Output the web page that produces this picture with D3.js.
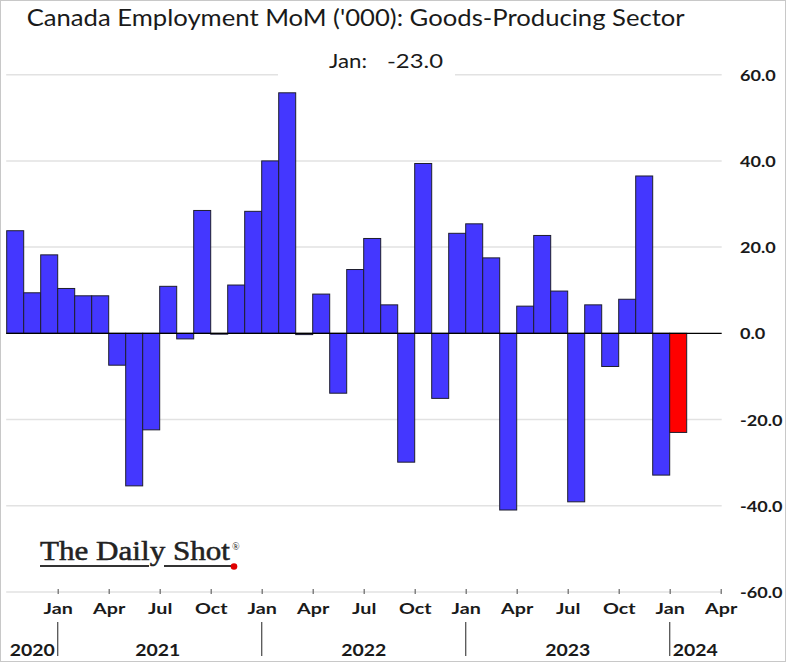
<!DOCTYPE html>
<html>
<head>
<meta charset="utf-8">
<script src="https://cdn.jsdelivr.net/npm/d3@7"></script>
<style>
  html, body { margin: 0; padding: 0; background: #fff; }
  svg { display: block; }
</style>
</head>
<body>
<svg id="chart" width="786" height="662"></svg>
<script>
// ---------------- DATA ----------------
const months = [
  "Oct 2020","Nov 2020","Dec 2020",
  "Jan 2021","Feb 2021","Mar 2021","Apr 2021","May 2021","Jun 2021","Jul 2021","Aug 2021","Sep 2021","Oct 2021","Nov 2021","Dec 2021",
  "Jan 2022","Feb 2022","Mar 2022","Apr 2022","May 2022","Jun 2022","Jul 2022","Aug 2022","Sep 2022","Oct 2022","Nov 2022","Dec 2022",
  "Jan 2023","Feb 2023","Mar 2023","Apr 2023","May 2023","Jun 2023","Jul 2023","Aug 2023","Sep 2023","Oct 2023","Nov 2023","Dec 2023",
  "Jan 2024"
];
const values = [
  23.8, 9.4, 18.2,
  10.4, 8.7, 8.7, -7.4, -35.4, -22.4, 10.9, -1.3, 28.5, -0.2, 11.2, 28.3,
  40.0, 55.8, -0.3, 9.1, -13.9, 14.8, 22.0, 6.6, -29.9, 39.4, -15.1, 23.2,
  25.4, 17.5, -41.0, 6.3, 22.7, 9.8, -39.1, 6.6, -7.7, 7.9, 36.5, -32.9,
  -23.0
];
const monthTickLabels = ["Jan", "Apr", "Jul", "Oct"];
const yearLabels = ["2020", "2021", "2022", "2023", "2024"];
const yTicks = [-60, -40, -20, 0, 20, 40, 60];
const titleText = "Canada Employment MoM ('000): Goods-Producing Sector";
const latestLabel = "Jan:";
const latestValue = values[values.length - 1];

// ---------------- LAYOUT ----------------
const svg = d3.select("#chart");
const W = 786, H = 662;
const plotL = 6.7, plotR = 720.7;
const yTop = 74.7, yBot = 591.9;
const nAxisMonths = months.length + 2; // axis runs to Apr 2024
const x = d3.scaleLinear().domain([0, nAxisMonths]).range([plotL, plotR]);
const y = d3.scaleLinear().domain([-60, 60]).range([yBot, yTop]);

const BLUE = "#4437FF", RED = "#FF0000", GRID = "#e2e2e2";
const SANS = "Lato, 'Open Sans', sans-serif";
const fmt = d3.formatLocale({decimal: ".", thousands: ",", grouping: [3], currency: ["", ""], minus: "-"}).format(".1f");

function stretch(sel, target) {
  // horizontally fit text to the reference width
  sel.each(function() {
    const n = this.getComputedTextLength();
    if (n > 0) d3.select(this).attr("textLength", target(this, n)).attr("lengthAdjust", "spacingAndGlyphs");
  });
}

// outer frame
svg.append("rect").attr("x", 0.5).attr("y", 0.5).attr("width", W - 1).attr("height", H - 1)
  .attr("fill", "#fff").attr("stroke", "#c8c8c8").attr("stroke-width", 1);

// gridlines
svg.append("g").selectAll("line").data(yTicks.filter(d => d !== 0)).join("line")
  .attr("x1", x(0) - 0.5).attr("x2", x(nAxisMonths) + 1)
  .attr("y1", d => y(d)).attr("y2", d => y(d))
  .attr("stroke", GRID).attr("stroke-width", 1.5);

// bars
svg.append("g").selectAll("rect").data(values).join("rect")
  .attr("x", (d, i) => x(i))
  .attr("width", (d, i) => x(i + 1) - x(i))
  .attr("y", d => y(Math.max(0, d)))
  .attr("height", d => Math.max(0.01, Math.abs(y(d) - y(0))))
  .attr("fill", (d, i) => i === values.length - 1 ? RED : BLUE)
  .attr("stroke", "#1e1e2e").attr("stroke-width", 1);

// zero line
svg.append("line").attr("x1", x(0) - 0.5).attr("x2", x(nAxisMonths) + 1)
  .attr("y1", y(0)).attr("y2", y(0)).attr("stroke", "#000").attr("stroke-width", 1.2);

// right axis labels
const yAxis = d3.axisRight(y).tickValues(yTicks).tickSize(0).tickPadding(0).tickFormat(fmt);
const yg = svg.append("g").attr("transform", "translate(740,0)").call(yAxis);
yg.select(".domain").remove();
yg.selectAll("text")
  .attr("x", 0).attr("dy", "0.36em")
  .attr("font-family", SANS).attr("font-weight", "bold").attr("font-size", 15.6)
  .attr("fill", "#1a1a1a").attr("text-anchor", "start");
stretch(yg.selectAll("text"), (el, n) => n * 1.16);

// bottom axis (ticks + month labels)
const tickIdx = d3.range(3, nAxisMonths + 1, 3);
const xAxis = d3.axisBottom(x).tickValues(tickIdx).tickSize(5).tickPadding(0)
  .tickFormat(d => monthTickLabels[(d / 3 - 1) % 4]);
const xg = svg.append("g").attr("transform", `translate(0,${yBot - 3})`).call(xAxis);
xg.select(".domain").remove();
xg.selectAll(".tick line").attr("stroke", "#666").attr("stroke-width", 1.2);
xg.selectAll("text")
  .attr("y", 25.5).attr("dy", 0)
  .attr("font-family", SANS).attr("font-weight", "bold").attr("font-size", 15.4)
  .attr("fill", "#1a1a1a");
stretch(xg.selectAll("text"), (el, n) => n * 1.28);

// year separators and labels
const janIdx = months.map((m, i) => m.startsWith("Jan") ? i : -1).filter(i => i >= 0);
svg.append("g").selectAll("line").data(janIdx).join("line")
  .attr("x1", d => x(d)).attr("x2", d => x(d))
  .attr("y1", 622).attr("y2", 656)
  .attr("stroke", "#555").attr("stroke-width", 1.3);
const yearBounds = [0, ...janIdx, nAxisMonths];
const yg2 = svg.append("g").selectAll("text").data(yearLabels).join("text")
  .attr("x", (d, i) => (x(yearBounds[i]) + x(yearBounds[i + 1])) / 2 - (i === 1 ? 2 : 0))
  .attr("y", 655.5)
  .attr("text-anchor", "middle")
  .attr("font-family", SANS).attr("font-weight", "bold").attr("font-size", 16.2)
  .attr("fill", "#1a1a1a")
  .text(d => d);
stretch(yg2, (el, n) => n * 1.2);

// title
const t = svg.append("text").attr("x", 26.7).attr("y", 26)
  .attr("font-family", SANS).attr("font-size", 23.2).attr("fill", "#1a1a1a")
  .text(titleText);
stretch(t, () => 658);

// latest value label (with white box interrupting top gridline)
svg.append("rect").attr("x", 278).attr("y", 45).attr("width", 177).attr("height", 36).attr("fill", "#fff");
const s1 = svg.append("text").attr("x", 329).attr("y", 68)
  .attr("font-family", SANS).attr("font-size", 18.5).attr("fill", "#1a1a1a").text(latestLabel);
stretch(s1, () => 38);
const s2 = svg.append("text").attr("x", 387).attr("y", 68)
  .attr("font-family", SANS).attr("font-size", 18.5).attr("fill", "#1a1a1a").text(fmt(latestValue));
stretch(s2, () => 56);

// logo
const logo = svg.append("g");
const lt = logo.append("text").attr("x", 40).attr("y", 560)
  .attr("font-family", "'Liberation Serif', 'DejaVu Serif', serif").attr("font-size", 26.5)
  .attr("fill", "#222").attr("stroke", "#222").attr("stroke-width", 0.5).text("The Daily Shot");
stretch(lt, () => 190);
logo.append("text").attr("x", 232).attr("y", 550)
  .attr("font-family", "'Liberation Serif', serif").attr("font-size", 10).attr("fill", "#222").text("®");
logo.append("line").attr("x1", 40).attr("x2", 149).attr("y1", 566).attr("y2", 566)
  .attr("stroke", "#333").attr("stroke-width", 2);
logo.append("line").attr("x1", 164).attr("x2", 233).attr("y1", 566).attr("y2", 566)
  .attr("stroke", "#333").attr("stroke-width", 2);
logo.append("circle").attr("cx", 234).attr("cy", 566.5).attr("r", 3.3).attr("fill", "#e00000");
</script>
</body>
</html>
